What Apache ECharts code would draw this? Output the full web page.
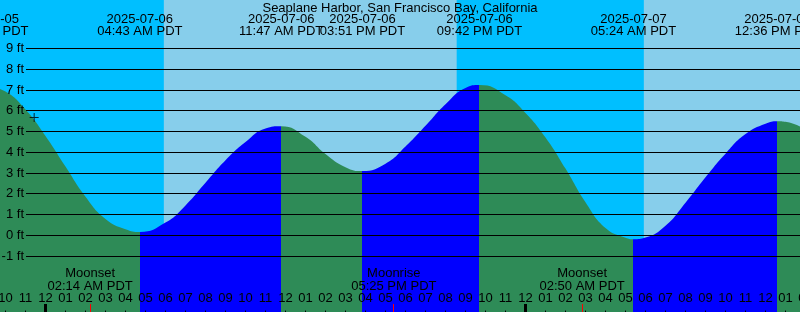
<!DOCTYPE html>
<html><head><meta charset="utf-8">
<script src="https://cdn.jsdelivr.net/npm/echarts@6/dist/echarts.min.js"></script>
<style>html,body{margin:0;padding:0;background:#fff;overflow:hidden}#c{width:800px;height:312px}</style>
</head><body><div id="c"></div>
<script>
// ---------- data ----------
const chartTitle = 'Seaplane Harbor, San Francisco Bay, California';
const tzName = 'PDT';

// tide heights (ft)
const tideTimes = [
  '2025-07-05 21:01','2025-07-05 22:00','2025-07-05 23:00',
  '2025-07-06 00:00','2025-07-06 01:00','2025-07-06 02:00','2025-07-06 03:00','2025-07-06 04:00','2025-07-06 04:43',
  '2025-07-06 06:00','2025-07-06 07:00','2025-07-06 08:00','2025-07-06 09:00','2025-07-06 10:00','2025-07-06 11:00','2025-07-06 11:47',
  '2025-07-06 13:00','2025-07-06 14:00','2025-07-06 15:00','2025-07-06 15:51',
  '2025-07-06 17:00','2025-07-06 18:00','2025-07-06 19:00','2025-07-06 20:00','2025-07-06 21:00','2025-07-06 21:42',
  '2025-07-06 23:00','2025-07-07 00:00','2025-07-07 01:00','2025-07-07 02:00','2025-07-07 03:00','2025-07-07 04:00','2025-07-07 05:00','2025-07-07 05:24',
  '2025-07-07 06:00','2025-07-07 07:00','2025-07-07 08:00','2025-07-07 09:00','2025-07-07 10:00','2025-07-07 11:00','2025-07-07 12:00','2025-07-07 12:36',
  '2025-07-07 13:00','2025-07-07 14:00'
];
const tideFeet = [
  7.20, 6.93, 6.06,
  4.79, 3.32, 1.87, 0.80, 0.30, 0.17,
  0.62, 1.45, 2.54, 3.62, 4.50, 5.15, 5.26,
  4.75, 3.92, 3.29, 3.10,
  3.45, 4.28, 5.28, 6.32, 7.10, 7.24,
  6.75, 5.90, 4.72, 3.22, 1.60, 0.36, -0.11, -0.18,
  -0.10, 0.47, 1.58, 2.80, 3.94, 4.88, 5.38, 5.50,
  5.47, 5.12
];

// high / low tide events (labelled at the top)
const extremaTimes = ['2025-07-05 21:01','2025-07-06 04:43','2025-07-06 11:47','2025-07-06 15:51','2025-07-06 21:42','2025-07-07 05:24','2025-07-07 12:36'];
const extremaKinds = ['H','L','H','L','H','L','H'];

// moon events (labelled at the bottom)
const moonTimes = ['2025-07-06 02:14','2025-07-06 17:25','2025-07-07 02:50'];
const moonNames = ['Moonset','Moonrise','Moonset'];

// sky bands
const bandStart = ['2025-07-05 20:34','2025-07-06 05:55','2025-07-06 20:34','2025-07-07 05:55'];
const bandEnd   = ['2025-07-06 05:55','2025-07-06 20:34','2025-07-07 05:55','2025-07-07 20:34'];
const bandIsDay = [0, 1, 0, 1];

// midnights (heavy ticks)
const midnights = ['2025-07-06 00:00','2025-07-07 00:00'];

// y tick labels (ft)
const ftTicks = [-1, 0, 1, 2, 3, 4, 5, 6, 7, 8, 9];

// axis window
const axisStart = '2025-07-05 21:00';
const axisEnd   = '2025-07-07 14:00';

// '+' marker
const crossTime = '2025-07-05 23:26';
const crossFeet = 5.68;

// ---------- helpers ----------
const DAY0 = Date.UTC(2025, 6, 6);
function hrs(s) {
  const [d, t] = s.split(' ');
  const [Y, M, D] = d.split('-').map(Number);
  const [hh, mm] = t.split(':').map(Number);
  return (Date.UTC(Y, M - 1, D, hh, mm) - DAY0) / 3600000;
}
function pad(n) { return (n < 10 ? '0' : '') + n; }
function clock(s) {
  const t = s.split(' ')[1];
  let [hh, mm] = t.split(':').map(Number);
  const ap = hh < 12 ? 'AM' : 'PM';
  let h12 = hh % 12; if (h12 === 0) h12 = 12;
  return pad(h12) + ':' + pad(mm) + ' ' + ap + ' ' + tzName;
}

const FAM = '"Liberation Sans", Arial, sans-serif';
const FONT = '13px ' + FAM;
const C_NIGHT = '#00BFFF', C_DAY = '#87CEEB', C_EBB = '#2E8B57', C_FLOOD = '#0000FF';

const tideData = tideTimes.map((t, i) => [hrs(t), tideFeet[i]]);

// colour pieces: rising after a low (blue), falling after a high (green)
const pieces = [];
pieces.push({ lt: hrs(extremaTimes[0]), color: C_FLOOD });
extremaTimes.forEach((t, i) => {
  const p = { gte: hrs(t), color: extremaKinds[i] === 'H' ? C_EBB : C_FLOOD };
  if (i < extremaTimes.length - 1) p.lt = hrs(extremaTimes[i + 1]);
  pieces.push(p);
});

function txt(x, y, s, align) {
  return { type: 'text', x: x, y: y, z2: 10,
    style: { text: s, font: FONT, fill: '#000', align: align || 'center', verticalAlign: 'middle',
             textAlign: align || 'center', textVerticalAlign: 'middle' } };
}

const chart = echarts.init(document.getElementById('c'), null, { renderer: 'canvas' });
chart.setOption({
  animation: false,
  backgroundColor: C_NIGHT,
  title: { text: chartTitle, left: 'center', top: -3,
    textStyle: { fontFamily: FAM, fontSize: 13, fontWeight: 'normal', color: '#000' } },
  grid: { left: -14.5, right: -5.5, top: -13.8, bottom: -6.6, containLabel: false, outerBoundsMode: 'none' },
  xAxis: {
    type: 'value', min: hrs(axisStart), max: hrs(axisEnd), interval: 1, z: 10,
    axisLine: { show: false, onZero: false },
    axisTick: { show: true, inside: true, length: 8, interval: 0, lineStyle: { color: '#000', width: 1 } },
    axisLabel: { show: true, inside: true, margin: 14, interval: 0, hideOverlap: false, color: '#000',
      showMinLabel: true, showMaxLabel: true,
      fontFamily: FAM, fontSize: 13,
      formatter: v => { const hod = ((Math.round(v) % 24) + 24) % 24; let h = hod % 12; if (h === 0) h = 12; return pad(h); } },
    splitLine: { show: false }
  },
  yAxis: { type: 'value', min: -4, max: 12, show: false, splitLine: { show: false } },
  visualMap: { show: false, type: 'piecewise', dimension: 0, seriesIndex: 1, pieces: pieces },
  series: [
    { // sky bands
      type: 'custom', z: 0, silent: true,
      data: bandStart.map((s, i) => [hrs(s), hrs(bandEnd[i]), bandIsDay[i]]),
      encode: { x: [0, 1] },
      renderItem: (p, api) => {
        const x0 = api.coord([api.value(0), 0])[0];
        const x1 = api.coord([api.value(1), 0])[0];
        return { type: 'rect', shape: { x: x0, y: 0, width: x1 - x0, height: api.getHeight() },
          style: { fill: api.value(2) ? C_DAY : C_NIGHT } };
      }
    },
    { // tide
      type: 'line', z: 2, data: tideData, smooth: 0.5, showSymbol: false, silent: true,
      lineStyle: { width: 0 },
      areaStyle: { opacity: 1, origin: 'start' }
    },
    { // grid lines + ft labels
      type: 'custom', z: 3, silent: true,
      data: ftTicks.map(v => [0, v]),
      renderItem: (p, api) => {
        const y = Math.floor(api.coord([0, api.value(1)])[1]) + 0.5;
        return { type: 'group', children: [
          { type: 'line', shape: { x1: 26, y1: y, x2: 800, y2: y }, style: { stroke: '#000', lineWidth: 1 } },
          txt(24, y - 0.5, api.value(1) + ' ft', 'right')
        ] };
      }
    },
    { // tide event labels (top)
      type: 'custom', z: 4, silent: true,
      data: extremaTimes.map((t, i) => [hrs(t), i]),
      renderItem: (p, api) => {
        const i = api.value(1);
        const x = api.coord([api.value(0), 0])[0];
        return { type: 'group', children: [
          txt(x, 19, extremaTimes[i].split(' ')[0]),
          txt(x, 31.5, clock(extremaTimes[i]))
        ] };
      }
    },
    { // moon events (bottom)
      type: 'custom', z: 4, silent: true,
      data: moonTimes.map((t, i) => [hrs(t), i]),
      renderItem: (p, api) => {
        const i = api.value(1);
        const x = api.coord([api.value(0), 0])[0];
        const H = api.getHeight();
        return { type: 'group', children: [
          { type: 'rect', shape: { x: Math.floor(x), y: H - 8, width: 1, height: 8 }, style: { fill: '#FF0000' } },
          txt(x, 273.5, moonNames[i]),
          txt(x, 286, clock(moonTimes[i]))
        ] };
      }
    },
    { // heavy midnight ticks
      type: 'custom', z: 4, silent: true,
      data: midnights.map(t => [hrs(t), 0]),
      renderItem: (p, api) => {
        const x = api.coord([api.value(0), 0])[0];
        const H = api.getHeight();
        return { type: 'rect', shape: { x: Math.floor(x) - 1, y: H - 8, width: 3, height: 8 }, style: { fill: '#000' } };
      }
    },
    { // '+' marker
      type: 'scatter', z: 5, silent: true,
      data: [[hrs(crossTime), crossFeet]],
      symbol: 'path://M0,4h9v1h-9zM4,0h1v9h-1z', symbolSize: [9, 9],
      itemStyle: { color: '#000' }
    }
  ]
});
</script></body></html>
